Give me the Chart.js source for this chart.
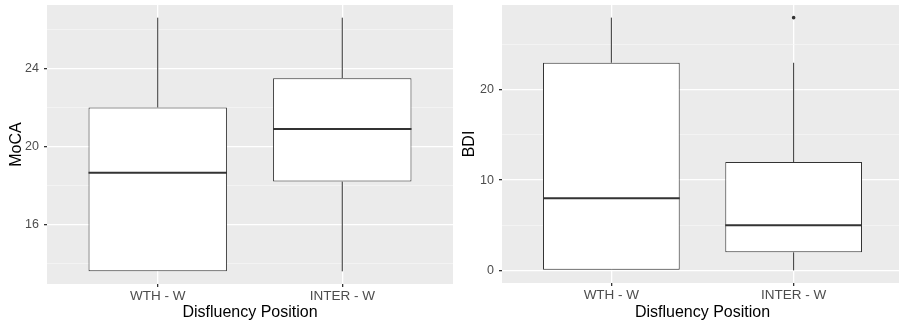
<!DOCTYPE html>
<html>
<head>
<meta charset="utf-8">
<script src="https://cdn.jsdelivr.net/npm/chart.js@4.4.1/dist/chart.umd.min.js"></script>
<style>
  html, body { margin: 0; padding: 0; background: #ffffff; overflow: hidden; width: 899px; height: 323px; }
  .panel { position: absolute; top: 0; height: 323px; }
  #panelA { left: 0; width: 453px; }
  #panelB { left: 453px; width: 454px; }
</style>
</head>
<body>
<div class="panel" id="panelA"><canvas id="mocaChart"></canvas></div>
<div class="panel" id="panelB"><canvas id="bdiChart"></canvas></div>
<script>
// Groups on the x axis
const categories = ['WTH - W', 'INTER - W'];

// MoCA five-number summaries per group
const mocaLower  = [13.6, 13.6];
const mocaQ1     = [13.6, 18.2];
const mocaMedian = [18.65, 20.9];
const mocaQ3     = [22.0, 23.5];
const mocaUpper  = [26.6, 26.6];
const mocaOutliers = [[], []];
const mocaMajorTicks = [16, 20, 24];
const mocaMinorTicks = [14, 18, 22, 26];

// BDI five-number summaries per group
const bdiLower  = [0, 0];
const bdiQ1     = [0, 2];
const bdiMedian = [8, 5];
const bdiQ3     = [23, 12];
const bdiUpper  = [28, 23];
const bdiOutliers = [[], [28]];
const bdiMajorTicks = [0, 10, 20];
const bdiMinorTicks = [5, 15, 25];

const BOX_WIDTH = 0.75;      // box width in category units
const X_EXPAND = 0.6;        // discrete axis padding on each side
const Y_EXPAND = 0.05;       // continuous axis padding fraction
const FONT = "'Liberation Sans', Arial, Helvetica, sans-serif";
const INK = '#333333';

// Gray panel behind the plotting area
const panelBackground = {
  id: 'panelBackground',
  beforeDraw(chart) {
    const { ctx, chartArea: a } = chart;
    ctx.save();
    ctx.fillStyle = '#EBEBEB';
    ctx.fillRect(a.left, a.top, a.right - a.left, a.bottom - a.top);
    ctx.restore();
  }
};

// Axis boxes keep a fixed size and claim no extra label margins
function fixedAxis(size) {
  return ax => {
    if (ax.isHorizontal()) ax.height = size; else ax.width = size;
    ax.paddingTop = 0; ax.paddingBottom = 0; ax.paddingLeft = 0; ax.paddingRight = 0;
  };
}

function boxplot(canvasId, yTitle, s, majorTicks, minorTicks, layoutOpt) {
  const n = categories.length;
  const allVals = [...s.lower, ...s.upper, ...s.outliers.flat()];
  const lo = Math.min(...allVals), hi = Math.max(...allVals);
  const pad = (hi - lo) * Y_EXPAND;

  const whiskers = [], medians = [], boxes = [], outs = [];
  for (let i = 0; i < n; i++) {
    const x = i + 1;
    whiskers.push({ x, y: s.lower[i] }, { x, y: s.q1[i] }, { x: x + 0.5, y: null },
                  { x, y: s.q3[i] }, { x, y: s.upper[i] }, { x: x + 0.5, y: null });
    medians.push({ x: x - BOX_WIDTH / 2, y: s.median[i] }, { x: x + BOX_WIDTH / 2, y: s.median[i] },
                 { x: x + 0.5, y: null });
    boxes.push({ x, y: [s.q1[i], s.q3[i]] });
    s.outliers[i].forEach(v => outs.push({ x, y: v }));
  }
  const gridVals = [...majorTicks, ...minorTicks].sort((a, b) => a - b);
  const isMajor = v => majorTicks.includes(v);

  return new Chart(document.getElementById(canvasId), {
    type: 'bar',
    data: {
      datasets: [
        { type: 'line', data: whiskers, borderColor: INK, borderWidth: 1, pointRadius: 0, order: 3 },
        { type: 'bar', data: boxes, backgroundColor: '#FFFFFF', borderColor: INK, borderWidth: 1,
          borderSkipped: false, categoryPercentage: 1, barPercentage: BOX_WIDTH, order: 2 },
        { type: 'line', data: medians, borderColor: INK, borderWidth: 2, pointRadius: 0, order: 1 },
        { type: 'line', data: outs, showLine: false, pointRadius: 1.8, pointBorderWidth: 0,
          pointBackgroundColor: INK, order: 0 }
      ]
    },
    options: {
      responsive: true,
      maintainAspectRatio: false,
      animation: false,
      events: [],
      layout: { padding: { top: 5, left: 0, right: 0, bottom: 0 } },
      plugins: { legend: { display: false }, tooltip: { enabled: false } },
      scales: {
        x: {
          type: 'linear',
          min: 1 - X_EXPAND,
          max: n + X_EXPAND,
          offset: false,
          afterBuildTicks: ax => { ax.ticks = categories.map((_, i) => ({ value: i + 1 })); },
          afterFit: fixedAxis(layoutOpt.xAxisHeight),
          grid: { offset: false, color: '#FFFFFF', lineWidth: 1.3, tickColor: INK, tickLength: 3 },
          border: { display: false },
          ticks: {
            callback: v => categories[v - 1],
            color: '#4D4D4D', font: { family: FONT, size: 13.5 }, padding: 1, maxRotation: 0
          },
          title: { display: true, text: 'Disfluency Position', color: '#000000',
                   font: { family: FONT, size: 16 }, padding: { top: 0, bottom: 1 } }
        },
        y: {
          min: lo - pad,
          max: hi + pad,
          afterBuildTicks: ax => { ax.ticks = gridVals.map(v => ({ value: v })); },
          afterFit: fixedAxis(layoutOpt.yAxisWidth),
          grid: {
            color: c => (c.tick && isMajor(c.tick.value)) ? '#FFFFFF' : '#F7F7F7',
            lineWidth: c => (c.tick && isMajor(c.tick.value)) ? 1.3 : 0.7,
            tickColor: c => (c.tick && isMajor(c.tick.value)) ? INK : 'rgba(0,0,0,0)',
            tickLength: 3
          },
          border: { display: false },
          ticks: {
            callback: v => isMajor(v) ? String(v) : '',
            color: '#4D4D4D', font: { family: FONT, size: 12.5 }, padding: 5
          },
          title: { display: true, text: yTitle, color: '#000000',
                   font: { family: FONT, size: 16 }, padding: { top: 7, bottom: 0 } }
        }
      }
    },
    plugins: [panelBackground]
  });
}

boxplot('mocaChart', 'MoCA',
  { lower: mocaLower, q1: mocaQ1, median: mocaMedian, q3: mocaQ3, upper: mocaUpper, outliers: mocaOutliers },
  mocaMajorTicks, mocaMinorTicks, { yAxisWidth: 47, xAxisHeight: 39 });

boxplot('bdiChart', 'BDI',
  { lower: bdiLower, q1: bdiQ1, median: bdiMedian, q3: bdiQ3, upper: bdiUpper, outliers: bdiOutliers },
  bdiMajorTicks, bdiMinorTicks, { yAxisWidth: 49, xAxisHeight: 40 });
</script>
</body>
</html>
